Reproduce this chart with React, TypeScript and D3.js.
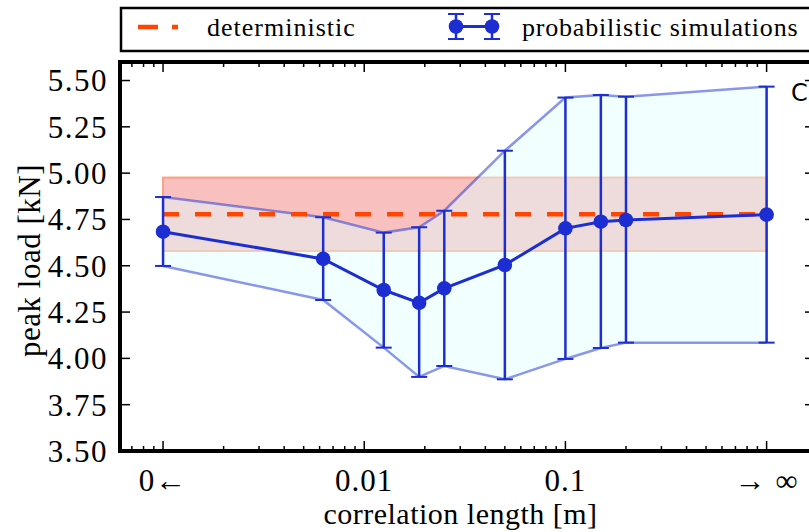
import React from 'react';
import * as d3 from 'd3';

const corrLength = [0.001, 0.00625, 0.0125, 0.01875, 0.025, 0.05, 0.1, 0.15, 0.2, 1];
const meanLoad = [4.684, 4.537, 4.369, 4.3, 4.378, 4.504, 4.702, 4.738, 4.747, 4.776];
const upperLoad = [4.871, 4.762, 4.679, 4.708, 4.797, 5.121, 5.408, 5.422, 5.413, 5.467];
const lowerLoad = [4.499, 4.315, 4.058, 3.9, 3.959, 3.887, 3.997, 4.056, 4.085, 4.085];
const detLoad = 4.778;
const detBand = [4.58, 4.976];
const detRange = [0.001, 1];
const yTicks = [3.5, 3.75, 4.0, 4.25, 4.5, 4.75, 5.0, 5.25, 5.5];
const xTickValues = [0.001, 0.01, 0.1, 1];
const xTickLabels = ['0\u2190', '0.01', '0.1', '\u2192 \u221E'];

const W = 809;
const H = 532;
const L = 120, R = 815, T = 62, B = 451;
const BLUE = '#1c2ed1';
const FONT = "'Liberation Serif', 'Times New Roman', serif";

export default function App() {
  const x = d3.scaleLog().domain([0.000611, 1.74]).range([L, R]);
  const y = d3.scaleLinear().domain([3.5, 5.6]).range([B, T]);

  const idx = corrLength.map((_, i) => i);
  const area = d3.area<number>().x(i => x(corrLength[i])).y0(i => y(lowerLoad[i])).y1(i => y(upperLoad[i]));
  const upperLine = d3.line<number>().x(i => x(corrLength[i])).y(i => y(upperLoad[i]));
  const lowerLine = d3.line<number>().x(i => x(corrLength[i])).y(i => y(lowerLoad[i]));
  const meanLine = d3.line<number>().x(i => x(corrLength[i])).y(i => y(meanLoad[i]));

  const minor = x.ticks(40).filter(v => !xTickValues.some(m => Math.abs(Math.log10(v) - Math.log10(m)) < 1e-6));

  const major = 10, minorLen = 5;

  return (
    <svg width={W} height={H} style={{ position: 'absolute', left: 0, top: 0, background: '#fff' }} fontFamily={FONT}>
      <rect x={0} y={0} width={W} height={H} fill="#fff" />
      <rect x={x(detRange[0])} y={y(detBand[1])} width={x(detRange[1]) - x(detRange[0])} height={y(detBand[0]) - y(detBand[1])}
        fill="#f9c0c0" stroke="#fca080" strokeWidth={2} />
      <path d={area(idx) || ''} fill="#e0ffff" fillOpacity={0.45} stroke="none" />
      <path d={upperLine(idx) || ''} fill="none" stroke={BLUE} strokeOpacity={0.5} strokeWidth={2.5} />
      <path d={lowerLine(idx) || ''} fill="none" stroke={BLUE} strokeOpacity={0.5} strokeWidth={2.5} />
      <line x1={x(detRange[0])} x2={x(detRange[1])} y1={y(detLoad)} y2={y(detLoad)} stroke="#ff4500" strokeWidth={4.5} strokeDasharray="16 16" />
      {idx.map(i => {
        const cx = x(corrLength[i]);
        return (
          <g key={'e' + i} stroke={BLUE} strokeWidth={2.5}>
            <line x1={cx} x2={cx} y1={y(upperLoad[i])} y2={y(lowerLoad[i])} />
            <line x1={cx - 8} x2={cx + 8} y1={y(upperLoad[i])} y2={y(upperLoad[i])} strokeWidth={2} />
            <line x1={cx - 8} x2={cx + 8} y1={y(lowerLoad[i])} y2={y(lowerLoad[i])} strokeWidth={2} />
          </g>
        );
      })}
      <path d={meanLine(idx) || ''} fill="none" stroke={BLUE} strokeWidth={3} />
      {idx.map(i => (
        <circle key={'m' + i} cx={x(corrLength[i])} cy={y(meanLoad[i])} r={7.3} fill={BLUE} />
      ))}
      <g stroke="#000" strokeWidth={1.5}>
        {yTicks.map(v => (
          <g key={'yt' + v}>
            <line x1={L} x2={L + major} y1={y(v)} y2={y(v)} />
            <line x1={R} x2={R - major} y1={y(v)} y2={y(v)} />
          </g>
        ))}
        {xTickValues.map(v => (
          <g key={'xt' + v}>
            <line x1={x(v)} x2={x(v)} y1={B} y2={B - major} />
            <line x1={x(v)} x2={x(v)} y1={T} y2={T + major} />
          </g>
        ))}
        {minor.map(v => (
          <g key={'xm' + v}>
            <line x1={x(v)} x2={x(v)} y1={B} y2={B - minorLen} />
            <line x1={x(v)} x2={x(v)} y1={T} y2={T + minorLen} />
          </g>
        ))}
      </g>
      <rect x={L} y={T} width={R - L} height={B - T} fill="none" stroke="#000" strokeWidth={4} />
      {yTicks.map(v => (
        <text key={'yl' + v} x={108} y={y(v)} dy="0.35em" textAnchor="end" fontSize={31} letterSpacing={1.5}>{v.toFixed(2)}</text>
      ))}
      {xTickValues.map((v, i) => (
        <text key={'xl' + v} x={x(v)} y={491} textAnchor="middle" fontSize={31} letterSpacing={1}>{xTickLabels[i]}</text>
      ))}
      <text x={(L + R) / 2 - 7} y={524} textAnchor="middle" fontSize={30} letterSpacing={0.5}>correlation length [m]</text>
      <text transform={`translate(40,${(T + B) / 2 + 4}) rotate(-90)`} textAnchor="middle" fontSize={31} letterSpacing={0.5}>peak load [kN]</text>
      <rect x={121} y={8} width={710} height={43} fill="#fff" stroke="#000" strokeWidth={2.5} />
      <line x1={138} x2={178} y1={27} y2={27} stroke="#ff4500" strokeWidth={4.5} strokeDasharray="20 14" />
      <text x={207} y={36} fontSize={26} letterSpacing={1}>deterministic</text>
      <g stroke={BLUE} strokeWidth={2.5}>
        {[456, 492].map(cx => (
          <g key={'lg' + cx}>
            <line x1={cx} x2={cx} y1={14} y2={39} />
            <line x1={cx - 8} x2={cx + 8} y1={14} y2={14} strokeWidth={2} />
            <line x1={cx - 8} x2={cx + 8} y1={39} y2={39} strokeWidth={2} />
          </g>
        ))}
        <line x1={456} x2={492} y1={26.5} y2={26.5} strokeWidth={3} />
      </g>
      <circle cx={456} cy={26.5} r={7.3} fill={BLUE} />
      <circle cx={492} cy={26.5} r={7.3} fill={BLUE} />
      <text x={522} y={36} fontSize={26} letterSpacing={0.8}>probabilistic simulations</text>
      <text x={791} y={101} fontSize={24} fontFamily="'DejaVu Sans', sans-serif">C</text>
    </svg>
  );
}
